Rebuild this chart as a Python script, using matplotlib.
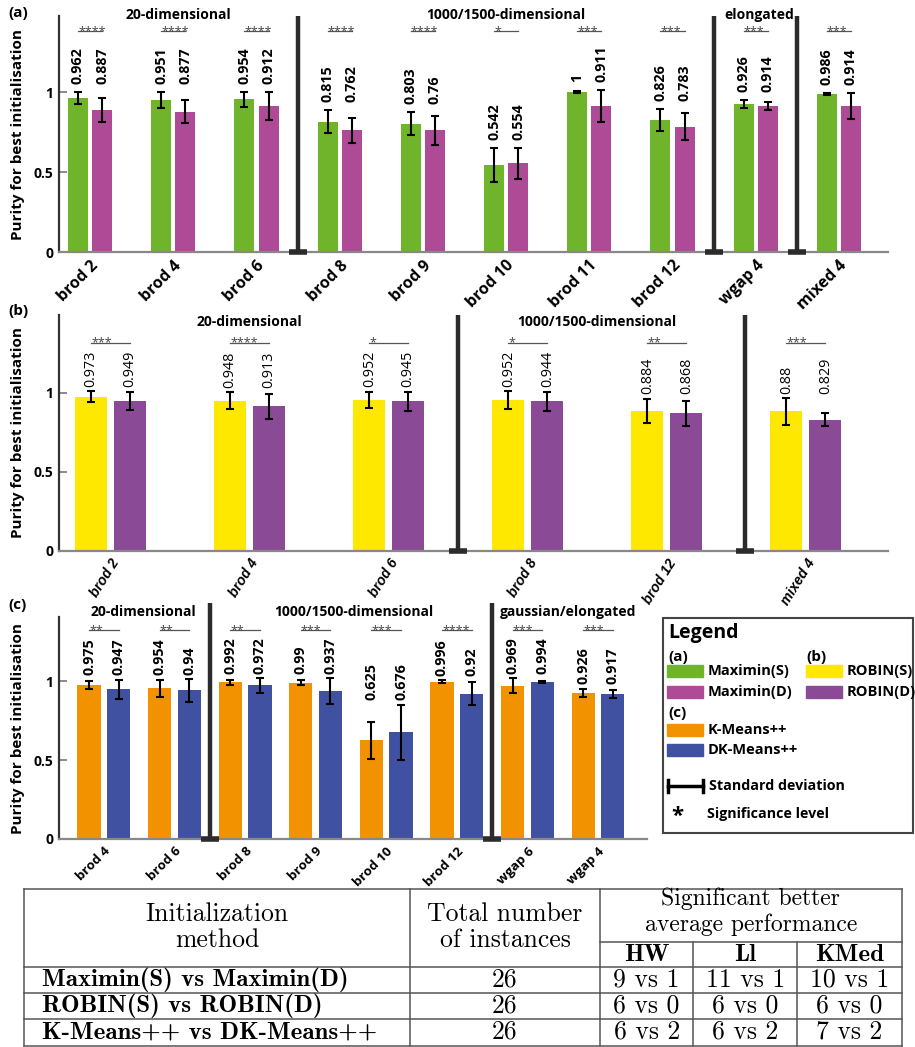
import matplotlib.pyplot as plt
import matplotlib.transforms as mtransforms
from matplotlib.patches import Rectangle

plt.rcParams['font.family'] = ['Open Sans', 'DejaVu Sans']

# ---- data -------------------------------------------------------------
# (a) Maximin(S) vs Maximin(D)
a_names = ['brod 2', 'brod 4', 'brod 6', 'brod 8', 'brod 9', 'brod 10',
           'brod 11', 'brod 12', 'wgap 4', 'mixed 4']
a_s = [0.962, 0.951, 0.954, 0.815, 0.803, 0.542, 1.0, 0.826, 0.926, 0.986]
a_s_sd = [0.04, 0.05, 0.047, 0.073, 0.07, 0.107, 0.004, 0.07, 0.026, 0.006]
a_d = [0.887, 0.877, 0.912, 0.762, 0.76, 0.554, 0.911, 0.783, 0.914, 0.914]
a_d_sd = [0.075, 0.07, 0.085, 0.078, 0.09, 0.096, 0.1, 0.083, 0.024, 0.08]
a_sig = ['****', '****', '****', '****', '****', '*', '***', '***', '***', '***']

# (b) ROBIN(S) vs ROBIN(D)
b_names = ['brod 2', 'brod 4', 'brod 6', 'brod 8', 'brod 12', 'mixed 4']
b_s = [0.973, 0.948, 0.952, 0.952, 0.884, 0.88]
b_s_sd = [0.035, 0.053, 0.053, 0.055, 0.074, 0.083]
b_d = [0.949, 0.913, 0.945, 0.944, 0.868, 0.829]
b_d_sd = [0.057, 0.08, 0.06, 0.06, 0.08, 0.042]
b_sig = ['***', '****', '*', '*', '**', '***']

# (c) K-Means++ vs DK-Means++
c_names = ['brod 4', 'brod 6', 'brod 8', 'brod 9', 'brod 10', 'brod 12',
           'wgap 6', 'wgap 4']
c_s = [0.975, 0.954, 0.992, 0.99, 0.625, 0.996, 0.969, 0.926]
c_s_sd = [0.025, 0.053, 0.017, 0.017, 0.116, 0.008, 0.048, 0.025]
c_d = [0.947, 0.94, 0.972, 0.937, 0.676, 0.92, 0.994, 0.917]
c_d_sd = [0.06, 0.07, 0.045, 0.08, 0.174, 0.072, 0.004, 0.027]
c_sig = ['**', '**', '**', '***', '***', '****', '***', '***']

# summary table
t_methods = ['Maximin(S) vs Maximin(D)', 'ROBIN(S) vs ROBIN(D)',
             'K-Means++ vs DK-Means++']
t_total = [26, 26, 26]
t_hw = ['9 vs 1', '6 vs 0', '6 vs 2']
t_ll = ['11 vs 1', '6 vs 0', '6 vs 2']
t_kmed = ['10 vs 1', '6 vs 0', '7 vs 2']

GREEN, MAGENTA = '#70B42B', '#AE4A96'
YELLOW, PURPLE = '#FFE800', '#8A4A96'
ORANGE, BLUE = '#F29200', '#3F51A0'

W, H = 915, 1047
fig = plt.figure(figsize=(W / 100, H / 100), dpi=100)


def px_axes(x0, y_top, x1, y_bot):
    return fig.add_axes([x0 / W, 1 - y_bot / H, (x1 - x0) / W, (y_bot - y_top) / H])


def panel(ax, names, s, s_sd, d, d_sd, cs, cd, sig, xlim, ytop, width, off,
          dividers, div_top, headers, head_y, sig_y, lab_off, val_weight,
          tick_kw, tick_dx):
    x = list(range(len(names)))
    xs = [i - off for i in x]
    xd = [i + off for i in x]
    ax.bar(xs, s, width, color=cs, zorder=2)
    ax.bar(xd, d, width, color=cd, zorder=2)
    ek = dict(fmt='none', ecolor='black', elinewidth=1.5, capsize=3.2,
              capthick=1.5, zorder=3)
    ax.errorbar(xs, s, yerr=s_sd, **ek)
    ax.errorbar(xd, d, yerr=d_sd, **ek)
    for i in x:
        top = max(s[i] + s_sd[i], d[i] + d_sd[i]) + lab_off
        ax.text(xs[i], top, f'{s[i]:g}', rotation=90, ha='center', va='bottom',
                fontsize=10.3, fontweight=val_weight)
        ax.text(xd[i], top, f'{d[i]:g}', rotation=90, ha='center', va='bottom',
                fontsize=10.3, fontweight=val_weight)
        ax.plot([xs[i], xd[i]], [sig_y, sig_y], color='#555', lw=0.9,
                clip_on=False)
        ax.text(xs[i], sig_y - 0.045, sig[i], ha='left', va='bottom',
                fontsize=9, color='#444')
    for dv in dividers:
        ax.plot([dv, dv], [0, div_top], color='#2b2b2b', lw=3.2,
                solid_capstyle='butt', clip_on=False, zorder=4)
        ax.plot(dv, 0, marker='_', ms=13, mew=4, color='#2b2b2b',
                clip_on=False, zorder=4)
    for hx, txt in headers:
        ax.text(hx, head_y, txt, ha='center', va='center', fontsize=10,
                fontweight='bold', clip_on=False)
    ax.set_xlim(*xlim)
    ax.set_ylim(0, ytop)
    ax.set_yticks([0, 0.5, 1])
    ax.set_yticklabels(['0', '0.5', '1'], fontweight='bold', fontsize=10)
    ax.set_xticks(x)
    ax.set_xticklabels(names, ha='right', rotation_mode='anchor', **tick_kw)
    shift = mtransforms.ScaledTranslation(tick_dx / 72, 0, fig.dpi_scale_trans)
    for lab in ax.get_xticklabels():
        lab.set_transform(lab.get_transform() + shift)
    ax.tick_params(axis='y', direction='in', length=6, width=1.2,
                   color='#777', pad=4)
    ax.tick_params(axis='x', length=0, pad=4)
    for sp in ['top', 'right']:
        ax.spines[sp].set_visible(False)
    ax.spines['left'].set_color('#333')
    ax.spines['left'].set_linewidth(1.6)
    ax.spines['bottom'].set_color('#888')
    ax.spines['bottom'].set_linewidth(1.6)


# (a)
ax_a = px_axes(59, 16, 888, 252)
panel(ax_a, a_names, a_s, a_s_sd, a_d, a_d_sd, GREEN, MAGENTA, a_sig,
      (-0.373, 9.59), 1.475, 0.24, 0.145, [2.5, 7.5, 8.5], 1.477,
      [(1.06, '20-dimensional'), (5.0, '1000/1500-dimensional'),
       (8.04, 'elongated')], 1.48, 1.38, 0.05, 'bold',
      dict(rotation=45, fontsize=11.5, fontweight='bold'), 11)

# (b)
ax_b = px_axes(58.7, 315, 888, 550.7)
panel(ax_b, b_names, b_s, b_s_sd, b_d, b_d_sd, YELLOW, PURPLE, b_sig,
      (-0.373, 5.59), 1.49, 0.23, 0.14, [2.5, 4.56], 1.49,
      [(1.0, '20-dimensional'), (3.5, '1000/1500-dimensional')],
      1.447, 1.316, 0.03, 'normal',
      dict(rotation=58, fontsize=10, fontweight='bold', fontstyle='italic',
           family=['Liberation Sans', 'DejaVu Sans']), 12)

# (c)
ax_c = px_axes(58.7, 616.7, 646.7, 839)
panel(ax_c, c_names, c_s, c_s_sd, c_d, c_d_sd, ORANGE, BLUE, c_sig,
      (-0.64, 7.69), 1.407, 0.33, 0.21, [1.5, 5.5], 1.495,
      [(0.56, '20-dimensional'), (3.54, '1000/1500-dimensional'),
       (6.58, 'gaussian/elongated')], 1.437, 1.32, 0.03, 'bold',
      dict(rotation=45, fontsize=9.5, fontweight='bold'), 9)

# panel letters and y labels
for lt, y_let, (yt, yb) in [('(a)', 13, (16, 252)), ('(b)', 311, (315, 551)),
                            ('(c)', 605, (617, 839))]:
    fig.text(8 / W, 1 - y_let / H, lt, fontsize=11, fontweight='bold',
             va='center', ha='left')
    fig.text(18 / W, 1 - (yt + yb) / 2 / H, 'Purity for best initialisation',
             rotation=90, fontsize=11, fontweight='bold', ha='center',
             va='center')

# overlay in pixel coordinates for legend and table
ov = fig.add_axes([0, 0, 1, 1], facecolor='none')
ov.set_xlim(0, W)
ov.set_ylim(H, 0)
ov.axis('off')

# legend
ov.add_patch(Rectangle((662.7, 617.7), 250, 215.6, fill=False,
                       edgecolor='#444', lw=1.5))
ov.text(668, 633, 'Legend', fontsize=14, fontweight='bold', va='center')
ov.text(668, 656.7, '(a)', fontsize=11, fontweight='bold', va='center')
ov.text(806.7, 656.7, '(b)', fontsize=11, fontweight='bold', va='center')
ov.text(668, 713, '(c)', fontsize=11, fontweight='bold', va='center')
leg_items = [(667, 671, GREEN, 'Maximin(S)'), (667, 692, MAGENTA, 'Maximin(D)'),
             (806, 671, YELLOW, 'ROBIN(S)'), (806, 692, PURPLE, 'ROBIN(D)'),
             (667, 730, ORANGE, 'K-Means++'), (667, 750, BLUE, 'DK-Means++')]
for lx, ly, col, txt in leg_items:
    ov.add_patch(Rectangle((lx, ly - 6), 36, 12, color=col))
    ov.text(lx + 41, ly, txt, fontsize=10.5, fontweight='bold', va='center')
ov.plot([668, 703], [786, 786], color='black', lw=2.5)
ov.plot([668, 668], [780, 792], color='black', lw=2.5)
ov.plot([703, 703], [780, 792], color='black', lw=2.5)
ov.text(709, 786, 'Standard deviation', fontsize=10.3, fontweight='bold',
        va='center')
ov.text(677, 816, '*', fontsize=16, fontweight='bold', va='center', ha='center')
ov.text(707, 814, 'Significance level', fontsize=10.3, fontweight='bold',
        va='center')

# table
tl, tr, tt, tb = 24, 901.7, 889.3, 1045.5
c1, c2, c3, c4 = 410, 600, 693.3, 797.3
lk = dict(color='#555', lw=1.1)
for yy in [tt, 967.3, 993.3, 1019.3, tb]:
    ov.plot([tl, tr], [yy, yy], **lk)
ov.plot([c2, tr], [941.7, 941.7], **lk)
for xx in [tl, c1, c2, tr]:
    ov.plot([xx, xx], [tt, tb], **lk)
for xx in [c3, c4]:
    ov.plot([xx, xx], [941.7, tb], **lk)

rm = dict(family='cmr10', fontsize=18.5, ha='center', va='center')
sm = dict(family='cmr10', fontsize=17, ha='center', va='center')
bf = dict(family='cmb10', fontsize=18, va='center')
ov.text((tl + c1) / 2, 914, 'Initialization', **rm)
ov.text((tl + c1) / 2, 940, 'method', **rm)
ov.text((c1 + c2) / 2, 914, 'Total number', **rm)
ov.text((c1 + c2) / 2, 940, 'of instances', **rm)
ov.text((c2 + tr) / 2, 899, 'Significant better', **sm)
ov.text((c2 + tr) / 2, 925, 'average performance', **sm)
for x0, x1, txt in [(c2, c3, 'HW'), (c3, c4, 'Ll'), (c4, tr, 'KMed')]:
    ov.text((x0 + x1) / 2, 955, txt, ha='center', **bf)
rows_y = [980, 1006, 1032]
for i, ry in enumerate(rows_y):
    ov.text(41.7, ry, t_methods[i], ha='left', **bf)
    ov.text((c1 + c2) / 2, ry, str(t_total[i]), **rm)
    ov.text((c2 + c3) / 2, ry, t_hw[i], **rm)
    ov.text((c3 + c4) / 2, ry, t_ll[i], **rm)
    ov.text((c4 + tr) / 2, ry, t_kmed[i], **rm)

fig.savefig('out.png', dpi=100)
